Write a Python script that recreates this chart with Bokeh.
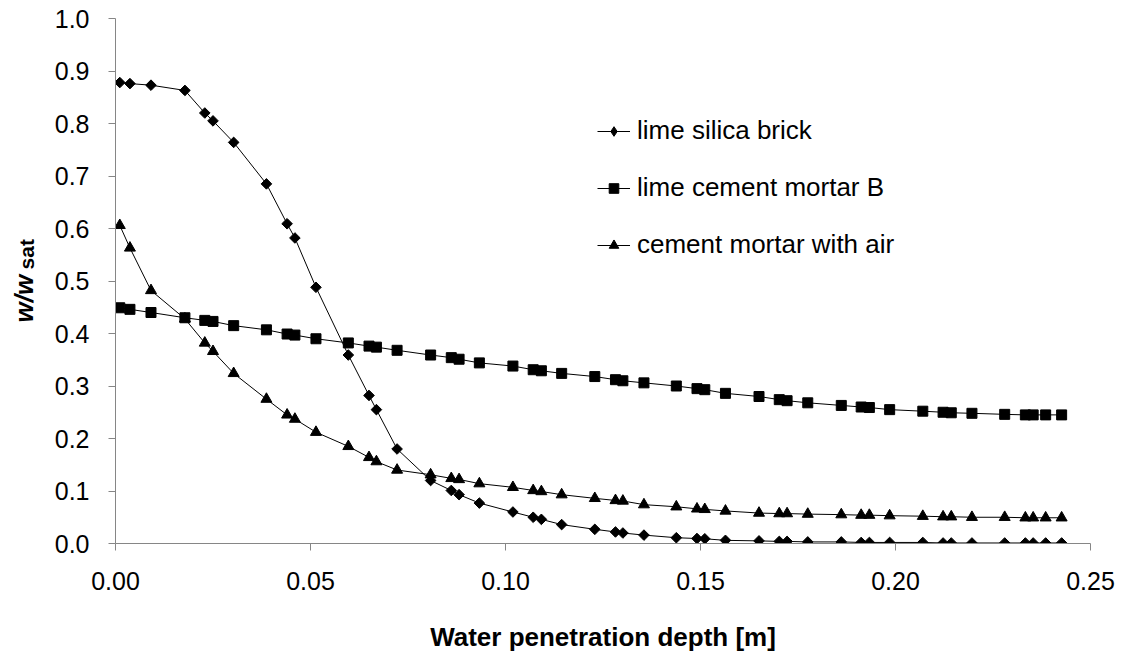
import math
from bokeh.plotting import figure
from bokeh.layouts import row
from bokeh.models import Range1d, Legend, LegendItem, FixedTicker, PrintfTickFormatter
from bokeh.core.properties import value
from bokeh.embed import file_html
from bokeh.resources import INLINE

# ---- data ----
depth = [0.0011, 0.0037, 0.0091, 0.0178, 0.0229, 0.0250, 0.0303, 0.0387, 0.0440, 0.0460,
         0.0514, 0.0597, 0.0650, 0.0669, 0.0722, 0.0808, 0.0861, 0.0881, 0.0933, 0.1019,
         0.1071, 0.1092, 0.1144, 0.1229, 0.1282, 0.1301, 0.1355, 0.1438, 0.1491, 0.1511,
         0.1564, 0.1650, 0.1702, 0.1722, 0.1775, 0.1861, 0.1912, 0.1933, 0.1985, 0.2070,
         0.2122, 0.2143, 0.2196, 0.2280, 0.2333, 0.2353, 0.2385, 0.2426]

lime_silica_brick = [0.878, 0.876, 0.873, 0.863, 0.820, 0.805, 0.764, 0.685, 0.609, 0.582,
                     0.488, 0.359, 0.282, 0.255, 0.180, 0.120, 0.101, 0.093, 0.077, 0.060,
                     0.050, 0.046, 0.036, 0.027, 0.022, 0.020, 0.016, 0.011, 0.0095, 0.009,
                     0.006, 0.005, 0.004, 0.004, 0.003, 0.003, 0.002, 0.002, 0.002, 0.002,
                     0.001, 0.001, 0.001, 0.001, 0.001, 0.001, 0.001, 0.001]

lime_cement_mortar_b = [0.449, 0.446, 0.440, 0.430, 0.425, 0.423, 0.415, 0.407, 0.399, 0.397,
                        0.390, 0.382, 0.376, 0.374, 0.368, 0.359, 0.354, 0.351, 0.344, 0.338,
                        0.331, 0.329, 0.324, 0.318, 0.312, 0.310, 0.306, 0.300, 0.295, 0.293,
                        0.286, 0.280, 0.274, 0.272, 0.268, 0.263, 0.260, 0.259, 0.255, 0.252,
                        0.250, 0.249, 0.248, 0.246, 0.245, 0.245, 0.245, 0.245]

cement_mortar_air = [0.606, 0.563, 0.482, 0.428, 0.382, 0.366, 0.324, 0.275, 0.245, 0.237,
                     0.212, 0.185, 0.164, 0.156, 0.140, 0.131, 0.124, 0.122, 0.114, 0.107,
                     0.101, 0.099, 0.093, 0.086, 0.082, 0.081, 0.074, 0.070, 0.066, 0.065,
                     0.062, 0.058, 0.057, 0.057, 0.056, 0.055, 0.054, 0.054, 0.053, 0.052,
                     0.051, 0.051, 0.050, 0.050, 0.049, 0.049, 0.049, 0.049]

series_names = ["lime silica brick", "lime cement mortar B", "cement mortar with air"]
x_ticks = [0.0, 0.05, 0.10, 0.15, 0.20, 0.25]
y_ticks = [0.0, 0.1, 0.2, 0.3, 0.4, 0.5, 0.6, 0.7, 0.8, 0.9, 1.0]
x_title = "Water penetration depth [m]"
y_title_main = "w/w"
y_title_sub = "sat"

FONT = "Liberation Sans"
AXIS_GREY = "#868686"
W_TOTAL, H_TOTAL = 1122, 657
W_LAB = 45
TOP, BOTTOM = 18, 114

# ---------------- main chart ----------------
p = figure(width=W_TOTAL - W_LAB, height=H_TOTAL, output_backend="svg", toolbar_location=None,
           x_range=Range1d(0, 0.25), y_range=Range1d(0, 1.0),
           min_border_left=115 - W_LAB, min_border_right=32, min_border_top=TOP,
           min_border_bottom=BOTTOM)
p.background_fill_color = "white"
p.border_fill_color = "white"
p.outline_line_color = None
p.xgrid.visible = False
p.ygrid.visible = False

p.xaxis.ticker = FixedTicker(ticks=x_ticks)
p.yaxis.ticker = FixedTicker(ticks=y_ticks)
p.xaxis.formatter = PrintfTickFormatter(format="%.2f")
p.yaxis.formatter = PrintfTickFormatter(format="%.1f")
for ax in (p.xaxis, p.yaxis):
    ax.axis_line_color = AXIS_GREY
    ax.axis_line_width = 1
    ax.major_tick_line_color = AXIS_GREY
    ax.major_tick_out = 7
    ax.major_tick_in = 0
    ax.minor_tick_line_color = None
    ax.major_label_text_font = FONT
    ax.major_label_text_font_size = "25px"
    ax.major_label_text_color = "black"
p.xaxis.major_label_standoff = 21
p.yaxis.major_label_standoff = 19

p.xaxis.axis_label = x_title
p.xaxis.axis_label_text_font = FONT
p.xaxis.axis_label_text_font_size = "26px"
p.xaxis.axis_label_text_font_style = "bold"
p.xaxis.axis_label_text_color = "black"
p.xaxis.axis_label_standoff = 29

l1 = p.line(depth, lime_silica_brick, line_color="black", line_width=1)
s1 = p.scatter(depth, lime_silica_brick, marker="square", angle=math.pi / 4, size=7.5,
               color="black")
l2 = p.line(depth, lime_cement_mortar_b, line_color="black", line_width=1)
s2 = p.scatter(depth, lime_cement_mortar_b, marker="square", size=10, color="black")
l3 = p.line(depth, cement_mortar_air, line_color="black", line_width=1)
s3 = p.scatter(depth, cement_mortar_air, marker="triangle", size=11, color="black")
# hidden diamond renderer that only supplies the legend symbol (legend does not rotate markers)
s1_key = p.scatter(depth, lime_silica_brick, marker="diamond", size=12, color="black",
                   visible=False)

legend = Legend(items=[LegendItem(label=series_names[0], renderers=[l1, s1_key]),
                       LegendItem(label=series_names[1], renderers=[l2, s2]),
                       LegendItem(label=series_names[2], renderers=[l3, s3])],
                location=(482, 283), border_line_color=None, background_fill_alpha=0,
                label_text_font=FONT, label_text_font_size="26px", label_text_color="black",
                glyph_width=33, glyph_height=24, label_standoff=7, spacing=26,
                padding=0, margin=0)
p.add_layout(legend)

# ---------------- narrow strip holding the rotated y-axis title ----------------
lab = figure(width=W_LAB, height=H_TOTAL, output_backend="svg", toolbar_location=None,
             title=None, x_range=Range1d(0, W_LAB), y_range=p.y_range,
             x_axis_location=None, y_axis_location=None,
             min_border_left=0, min_border_right=0, min_border_top=TOP,
             min_border_bottom=BOTTOM)
lab.outline_line_color = None
lab.xgrid.visible = False
lab.ygrid.visible = False
lab.background_fill_color = "white"
lab.border_fill_color = "white"
lab.text(x=[23], y=[0.421], text=[y_title_main], angle=math.pi / 2,
         text_align="left", text_baseline="alphabetic", text_font=value(FONT),
         text_font_size="26px", text_font_style="bold italic", text_color="black")
lab.text(x=[26], y=[0.522], text=[y_title_sub], angle=math.pi / 2,
         text_align="left", text_baseline="alphabetic", text_font=value(FONT),
         text_font_size="21px", text_font_style="bold", text_color="black")

layout = row(lab, p, spacing=0)
open("out.html", "w").write(file_html(layout, INLINE))
